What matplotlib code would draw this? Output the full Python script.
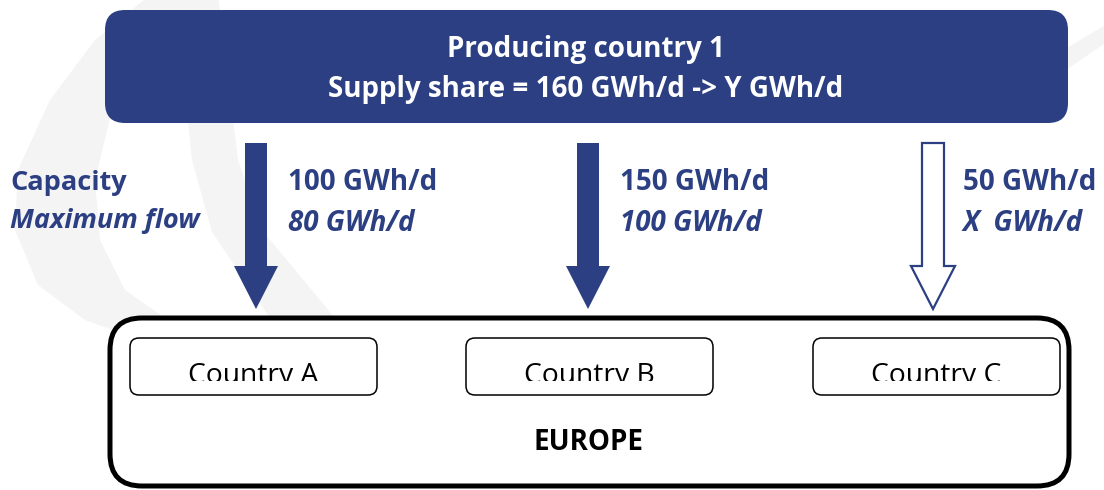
import matplotlib
matplotlib.use("Agg")
import matplotlib.pyplot as plt
from matplotlib.patches import FancyBboxPatch, FancyArrow, Polygon
from matplotlib.transforms import Bbox, TransformedBbox

# Données du schéma
producer_title = "Producing country 1"
supply_line = "Supply share = 160 GWh/d -> Y GWh/d"
capacities = ["100 GWh/d", "150 GWh/d", "50 GWh/d"]
max_flows = ["80 GWh/d", "100 GWh/d", "X  GWh/d"]
countries = ["Country A", "Country B", "Country C"]
filled = [True, True, False]
region_label = "EUROPE"
legend_labels = ["Capacity", "Maximum flow"]

# Mise en page (pixels)
arrow_x = [256, 588, 933]
label_x = [288, 620, 963]
box_left = [130, 466, 813]
box_width = 247
navy = "#2B3F82"
font = ["Open Sans", "DejaVu Sans"]

fig = plt.figure(figsize=(11.04, 4.90), dpi=100)
ax = fig.add_axes([0, 0, 1, 1])
ax.set_xlim(0, 1104)
ax.set_ylim(490, 0)
ax.axis("off")

# Filigrane gris clair en arrière-plan
wm = "#F4F4F4"
crescent = [(150, -5), (95, 40), (50, 100), (18, 170), (15, 230), (38, 285), (85, 320), (140, 340),
            (175, 325), (125, 290), (100, 240), (95, 180), (112, 110), (150, 50), (200, -5)]
band = [(175, -5), (218, -5), (238, 160), (262, 230), (335, 318), (270, 318), (212, 232), (192, 160)]
streak = [(1060, 52), (1104, 26), (1104, 44), (1066, 70)]
for pts in (crescent, band, streak):
    ax.add_patch(Polygon(pts, closed=True, color=wm, lw=0, zorder=0))

# Boîte du pays producteur
ax.add_patch(FancyBboxPatch((105, 10), 963, 113, boxstyle="round,pad=0,rounding_size=20",
                            fc=navy, ec="none", zorder=2))
ax.text(586, 57, producer_title, color="white", fontsize=20, fontweight="bold",
        ha="center", va="baseline", family=font, zorder=3)
ax.text(586, 97, supply_line, color="white", fontsize=20, fontweight="bold",
        ha="center", va="baseline", family=font, zorder=3)

# Légende à gauche
ax.text(10, 190, legend_labels[0], color=navy, fontsize=19.5, fontweight="bold",
        ha="left", va="baseline", family=font)
ax.text(10, 228, legend_labels[1], color=navy, fontsize=19.5, fontweight="bold", style="italic",
        ha="left", va="baseline", family=font)

# Flèches et étiquettes
for x, lx, cap, flow, f in zip(arrow_x, label_x, capacities, max_flows, filled):
    arr = FancyArrow(x, 143, 0, 166, width=22, head_width=44, head_length=43,
                     length_includes_head=True, zorder=2)
    if f:
        arr.set_facecolor(navy)
        arr.set_edgecolor("none")
    else:
        arr.set_facecolor("white")
        arr.set_edgecolor(navy)
        arr.set_linewidth(1.6)
    ax.add_patch(arr)
    ax.text(lx, 190, cap, color=navy, fontsize=20, fontweight="bold",
            ha="left", va="baseline", family=font)
    ax.text(lx, 231, flow, color=navy, fontsize=20, fontweight="bold", style="italic",
            ha="left", va="baseline", family=font)

# Boîte Europe
ax.add_patch(FancyBboxPatch((110, 318), 959, 168, boxstyle="round,pad=0,rounding_size=32",
                            fc="white", ec="black", lw=3.6, zorder=1))

# Pays (texte coupé en bas comme dans l'original)
for bl, name in zip(box_left, countries):
    ax.add_patch(FancyBboxPatch((bl, 338), box_width, 57, boxstyle="round,pad=0,rounding_size=9",
                                fc="white", ec="black", lw=1.1, zorder=2))
    t = ax.text(bl + box_width / 2, 383, name, color="black", fontsize=20.3,
                ha="center", va="baseline", family=font, zorder=3)
    t.set_clip_box(TransformedBbox(Bbox([[bl, 338], [bl + box_width, 381]]), ax.transData))
    t.set_clip_on(True)

ax.text(588, 450, region_label, color="black", fontsize=20, fontweight="bold",
        ha="center", va="baseline", family=font)

fig.savefig("out.png", dpi=100)
